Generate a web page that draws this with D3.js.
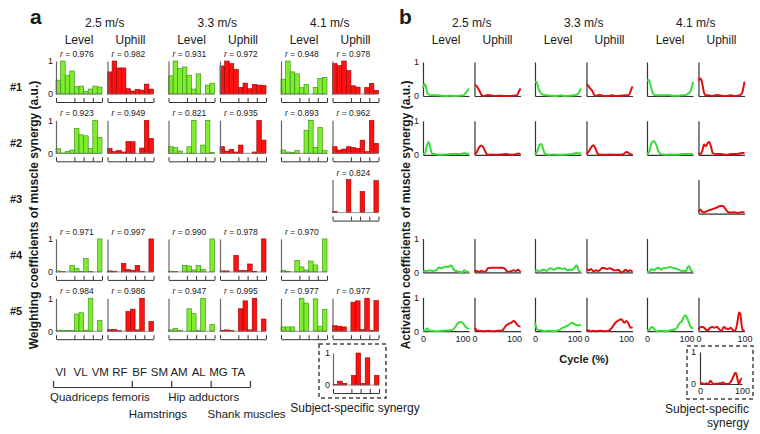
<!DOCTYPE html>
<html><head><meta charset="utf-8">
<script src="https://cdn.jsdelivr.net/npm/d3@7"></script>
<style>
body{margin:0;background:#fff;}
svg{display:block;font-family:"Liberation Sans",Arial,sans-serif;}
</style></head><body>
<svg id="c" width="760" height="434"></svg>
<script>
// ---------- data ----------
const speeds = ["2.5 m/s", "3.3 m/s", "4.1 m/s"];
const conditions = ["Level", "Uphill"];
const synergies = ["#1", "#2", "#3", "#4", "#5"];
const muscles = ["VI", "VL", "VM", "RF", "BF", "SM", "AM", "AL", "MG", "TA"];
const muscleGroups = ["Quadriceps femoris", "Hamstrings", "Hip adductors", "Shank muscles"];
const groupBounds = [0, 4, 6, 8, 10];
const yTicks = [0, 1];
const cycleTicks = [0, 100];

// r values per panel: [L2.5, U2.5, L3.3, U3.3, L4.1, U4.1]
const rS1 = ["0.976", "0.982", "0.931", "0.972", "0.948", "0.978"];
const rS2 = ["0.923", "0.949", "0.821", "0.935", "0.893", "0.962"];
const rS3 = [null, null, null, null, null, "0.824"];
const rS4 = ["0.971", "0.997", "0.990", "0.978", "0.970", null];
const rS5 = ["0.984", "0.986", "0.947", "0.995", "0.977", "0.977"];

// weighting coefficients (10 muscles) per panel
const wS1 = [
  [0.42, 1.0, 0.57, 0.70, 0.22, 0.24, 0.08, 0.15, 0.24, 0.21],
  [0.67, 1.0, 0.79, 0.79, 0.16, 0.09, 0.14, 0.12, 0.30, 0.15],
  [0.55, 1.0, 0.77, 0.82, 0.57, 0.15, 0.61, 0.0, 0.27, 0.33],
  [0.85, 1.0, 0.92, 0.75, 0.20, 0.33, 0.16, 0.29, 0.27, 0.26],
  [0.45, 1.0, 0.67, 0.61, 0.19, 0.29, 0.0, 0.20, 0.47, 0.50],
  [0.92, 0.86, 1.0, 0.71, 0.25, 0.21, 0.0, 0.20, 0.32, 0.11]
];
const wS2 = [
  [0.14, 0.01, 0.06, 0.10, 0.75, 0.56, 0.53, 0.14, 1.0, 0.48],
  [0.15, 0.05, 0.09, 0.04, 0.36, 0.35, 0.0, 0.16, 1.0, 0.45],
  [0.20, 0.17, 0.07, 0.0, 0.20, 1.0, 0.0, 0.25, 1.0, 0.03],
  [0.20, 0.07, 0.12, 0.04, 0.25, 0.0, 0.0, 0.04, 1.0, 0.40],
  [0.10, 0.04, 0.03, 0.08, 0.0, 0.70, 1.0, 0.18, 0.78, 0.08],
  [0.20, 0.10, 0.13, 0.20, 0.18, 0.15, 0.40, 0.05, 1.0, 0.30]
];
const wS3 = [null, null, null, null, null,
  [0.04, 0.0, 0.0, 1.0, 0.0, 0.0, 0.64, 0.0, 0.0, 0.97]];
const wS4 = [
  [0.03, 0.01, 0.0, 0.20, 0.10, 0.02, 0.40, 0.01, 0.0, 1.0],
  [0.03, 0.02, 0.0, 0.26, 0.07, 0.05, 0.20, 0.02, 0.0, 1.0],
  [0.02, 0.01, 0.0, 0.20, 0.18, 0.06, 0.19, 0.08, 0.0, 1.0],
  [0.03, 0.03, 0.0, 0.50, 0.04, 0.04, 0.24, 0.01, 0.0, 1.0],
  [0.05, 0.02, 0.0, 0.35, 0.15, 0.06, 0.33, 0.21, 0.0, 1.0],
  null
];
const wS5 = [
  [0.03, 0.03, 0.02, 0.02, 0.52, 0.56, 0.03, 1.0, 0.0, 0.32],
  [0.05, 0.05, 0.02, 0.0, 0.60, 0.67, 0.04, 1.0, 0.0, 0.30],
  [0.04, 0.08, 0.03, 0.0, 0.68, 0.53, 0.03, 1.0, 0.0, 0.20],
  [0.03, 0.04, 0.02, 0.0, 0.68, 0.92, 0.04, 1.0, 0.0, 0.37],
  [0.13, 0.13, 0.13, 0.0, 1.0, 0.85, 0.0, 0.98, 0.15, 0.66],
  [0.17, 0.15, 0.13, 0.0, 0.88, 0.92, 0.05, 1.0, 0.02, 0.93]
];
const wSubject = [0.02, 0.12, 0.05, 0.0, 0.30, 1.0, 0.05, 0.85, 0.0, 0.30];

// activation coefficients: [cycle %, value]
const aS1 = [
  [[0,.25],[3,.35],[6,.30],[9,.10],[12,.05],[20,.02],[30,.02],[40,.01],[50,0],[60,.01],[70,0],[80,.01],[88,.02],[92,.08],[96,.15],[100,.22]],
  [[0,.32],[4,.30],[8,.22],[12,.12],[16,.02],[22,0],[28,.03],[35,.02],[45,0],[55,.01],[65,0],[75,0],[85,.01],[92,.02],[96,.12],[100,.22]],
  [[0,.42],[4,.40],[8,.20],[12,.10],[16,.04],[25,.02],[35,.01],[45,0],[55,.02],[65,0],[75,.01],[85,.02],[92,.05],[96,.12],[100,.22]],
  [[0,.35],[4,.30],[8,.22],[12,.16],[16,.05],[20,0],[28,.04],[35,.01],[45,0],[55,.02],[65,0],[75,.01],[85,.02],[92,.02],[96,.15],[100,.28]],
  [[0,.45],[4,.47],[8,.30],[12,.10],[16,.03],[25,.02],[35,.02],[45,.03],[55,.01],[65,.01],[75,.02],[85,.03],[90,.07],[95,.15],[100,.42]],
  [[0,.45],[3,.52],[6,.48],[9,.30],[12,.10],[16,.02],[22,.02],[30,0],[40,.03],[50,.01],[60,0],[70,.02],[80,0],[90,.02],[95,.10],[100,.42]]
];
const aS2 = [
  [[0,.02],[5,.05],[8,.25],[12,.38],[16,.20],[20,.03],[30,.01],[40,0],[50,.01],[60,.02],[70,.03],[80,.02],[85,.03],[90,.05],[95,.02],[100,.03]],
  [[0,.02],[5,.08],[10,.22],[15,.27],[20,.20],[25,.05],[30,0],[40,.01],[50,0],[60,.01],[70,.02],[80,0],[90,.02],[95,.04],[100,.02]],
  [[0,.02],[5,.10],[10,.30],[13,.32],[17,.20],[21,.04],[30,0],[40,.01],[50,0],[60,0],[70,.01],[80,.02],[85,.04],[90,.05],[95,.04],[100,.05]],
  [[0,.02],[5,.10],[10,.22],[15,.28],[19,.20],[24,.04],[30,0],[40,0],[50,.01],[60,0],[70,0],[80,.02],[87,.08],[92,.05],[96,.01],[100,.02]],
  [[0,.02],[5,.10],[10,.35],[15,.40],[20,.30],[25,.10],[30,.02],[40,0],[50,.01],[60,0],[70,.01],[80,.02],[90,.02],[95,.03],[100,.02]],
  [[0,.05],[4,.02],[8,.10],[12,.30],[16,.25],[20,.35],[23,.38],[27,.25],[31,.05],[40,.02],[50,.02],[60,0],[70,.02],[80,.02],[90,.04],[95,.05],[100,.05]]
];
const aS3 = [null, null, null, null, null,
  [[0,.05],[4,.12],[8,.05],[12,.04],[20,.08],[30,.13],[40,.18],[47,.22],[53,.22],[58,.15],[63,.06],[70,.03],[78,.04],[85,.02],[92,.04],[100,.04]]];
const aS4 = [
  [[0,.02],[5,.05],[10,.04],[15,.06],[20,.04],[25,.05],[30,.08],[35,.15],[40,.12],[45,.15],[50,.17],[55,.16],[60,.20],[63,.18],[67,.08],[72,.04],[80,.02],[85,0],[90,.06],[95,.02],[100,.02]],
  [[0,.05],[5,.04],[10,.02],[15,.05],[20,.02],[25,.04],[30,.13],[40,.14],[50,.14],[60,.14],[65,.12],[70,.04],[75,.02],[80,.04],[85,.06],[90,.04],[95,.08],[100,.01]],
  [[0,.03],[5,.06],[10,.02],[15,.07],[20,.08],[25,.04],[30,.10],[35,.12],[40,.08],[45,.10],[50,.14],[55,.12],[60,.10],[65,.12],[70,.06],[75,.08],[80,.07],[85,.12],[90,.20],[93,.15],[96,.02],[100,.03]],
  [[0,.10],[5,.06],[10,.10],[15,.03],[20,.06],[25,.04],[30,.08],[35,.14],[40,.12],[45,.10],[50,.12],[55,.10],[60,.06],[65,.06],[70,.08],[75,0],[80,.02],[85,.08],[90,.03],[95,.06],[100,.02]],
  [[0,.01],[5,.02],[10,.10],[15,.06],[20,.12],[25,.14],[30,.08],[35,.12],[40,.12],[45,.14],[50,.16],[55,.14],[60,.12],[65,.10],[70,.08],[75,.04],[80,.05],[85,.03],[88,.15],[92,.18],[96,.03],[100,.04]],
  null
];
const aS5 = [
  [[0,.02],[5,.02],[8,.08],[10,.08],[13,.02],[20,.01],[30,0],[40,.01],[50,.02],[60,.03],[65,.05],[70,.12],[75,.22],[80,.27],[85,.26],[90,.18],[95,.10],[100,.06]],
  [[0,.10],[3,.06],[6,.02],[10,.01],[20,0],[30,.01],[40,0],[50,.01],[60,.02],[65,.10],[70,.18],[75,.22],[80,.25],[85,.30],[88,.28],[92,.20],[96,.15],[100,.14]],
  [[0,.25],[2,.15],[5,.05],[10,.03],[15,.02],[20,0],[30,.01],[40,0],[50,.02],[55,.05],[60,.10],[65,.13],[70,.16],[75,.20],[80,.25],[85,.22],[90,.18],[95,.17],[100,.18]],
  [[0,.03],[5,.02],[10,0],[15,.01],[20,0],[30,.01],[40,0],[50,.02],[55,.10],[60,.20],[65,.28],[70,.32],[75,.35],[78,.32],[82,.25],[87,.30],[92,.20],[96,.10],[100,.12]],
  [[0,.02],[5,.04],[8,.10],[12,.12],[16,.06],[20,0],[30,.01],[40,0],[50,.02],[60,.05],[65,.10],[70,.22],[75,.28],[80,.42],[83,.47],[86,.42],[90,.30],[95,.12],[100,.08]],
  [[0,.05],[5,.12],[10,.12],[15,.06],[20,.02],[25,.10],[30,.12],[35,.10],[40,.13],[45,.06],[50,.02],[55,.12],[60,.08],[65,.06],[70,.10],[75,.03],[80,.02],[85,.30],[88,.55],[91,.50],[94,.15],[97,.02],[100,.02]]
];
const aSubject = [[0,.02],[5,.02],[10,0],[15,.02],[20,0],[25,.10],[28,.05],[32,0],[40,.01],[50,.02],[55,.05],[60,0],[70,.02],[75,.10],[80,.25],[84,.35],[87,.30],[90,.10],[93,0],[96,.12],[100,.18]];

const rAll = [rS1, rS2, rS3, rS4, rS5];
const wAll = [wS1, wS2, wS3, wS4, wS5];
const aAll = [aS1, aS2, aS3, aS4, aS5];

// ---------- style ----------
const GREEN_FILL = "#7fec2c", GREEN_STROKE = "#2f8a12";
const RED_FILL = "#ff1111", RED_STROKE = "#9a0000";
const GREEN_LINE = "#35dd35", RED_LINE = "#e01010";
const TXT = "#1a1a1a";
const FONT = "Liberation Sans, Arial, sans-serif";

const svg = d3.select("#c");

// panel geometry
const PW = 46, PH = 33;
const colA = (k) => 56 + Math.floor(k / 2) * 112.5 + (k % 2) * 51.5;
const colB = (k) => 423 + Math.floor(k / 2) * 112 + (k % 2) * 51.5;
const rowA = (r) => 94 + r * 59.3;
const rowB = (r) => 96 + r * 58.8;

const xBand = d3.scaleBand().domain(muscles).range([0, PW]).padding(0);
const xTickLin = d3.scaleLinear().domain([0, 10]).range([0, PW]);

// ---------- panel letters & headers ----------
svg.append("text").attr("x", 30).attr("y", 24).attr("font-size", 21).attr("font-weight", "bold").attr("fill", TXT).text("a");
svg.append("text").attr("x", 399).attr("y", 24).attr("font-size", 21).attr("font-weight", "bold").attr("fill", TXT).text("b");

function headers(colFn) {
  speeds.forEach((s, i) => {
    const cx = (colFn(i * 2) + colFn(i * 2 + 1) + PW) / 2;
    svg.append("text").attr("x", cx).attr("y", 27).attr("text-anchor", "middle").attr("font-size", 12).attr("fill", TXT).text(s);
    conditions.forEach((c, j) => {
      svg.append("text").attr("x", colFn(i * 2 + j) + PW / 2).attr("y", 44).attr("text-anchor", "middle").attr("font-size", 12).attr("fill", TXT).text(c);
    });
  });
}
headers(colA);
headers(colB);

// row labels
synergies.forEach((s, r) => {
  svg.append("text").attr("x", 10).attr("y", 91 + r * 56).attr("font-size", 11).attr("font-weight", "bold").attr("fill", TXT).text(s);
});

// y-axis titles
svg.append("text").attr("transform", "translate(38,215) rotate(-90)").attr("text-anchor", "middle")
  .attr("font-size", 12).attr("font-weight", "bold").attr("fill", TXT).text("Weighting coefficients of muscle synergy (a.u.)");
svg.append("text").attr("transform", "translate(410,215) rotate(-90)").attr("text-anchor", "middle")
  .attr("font-size", 12).attr("font-weight", "bold").attr("fill", TXT).text("Activation coefficients of muscle synergy (a.u.)");

// ---------- bar panel ----------
function barPanel(x0, y0, vals, uphill, showY, rText, h) {
  const g = svg.append("g").attr("transform", `translate(${x0},${y0})`);
  const ys = d3.scaleLinear().domain([0, 1]).range([0, -(h || PH)]);
  g.selectAll("rect").data(vals).enter().append("rect")
    .attr("x", (d, i) => xBand(muscles[i]))
    .attr("width", xBand.bandwidth())
    .attr("y", d => ys(d))
    .attr("height", d => -ys(d))
    .attr("fill", uphill ? RED_FILL : GREEN_FILL)
    .attr("stroke", uphill ? RED_STROKE : GREEN_STROKE)
    .attr("stroke-width", 0.6);
  g.append("line").attr("x1", 0).attr("x2", PW).attr("y1", 0).attr("y2", 0).attr("stroke", "#777").attr("stroke-width", 0.8);
  const ya = d3.axisLeft(ys).tickValues(yTicks).tickSize(0).tickPadding(3)
    .tickFormat(showY ? d3.format("d") : () => "");
  const yg = g.append("g").call(ya);
  yg.select(".domain").attr("stroke", "#666").attr("stroke-width", 1.2);
  yg.selectAll("text").attr("font-size", 9).attr("fill", TXT).attr("font-family", FONT);
  const xa = d3.axisBottom(xTickLin).tickValues(groupBounds).tickSizeInner(-4).tickSizeOuter(0).tickFormat(() => "");
  const xg = g.append("g").attr("transform", "translate(0,8)").call(xa);
  xg.selectAll("path,line").attr("stroke", "#333").attr("stroke-width", 1);
  if (rText) {
    const t = g.append("text").attr("x", 4).attr("y", ys(1) - 4).attr("font-size", 8.5).attr("fill", TXT);
    t.append("tspan").attr("font-style", "italic").text("r");
    t.append("tspan").text(" = " + rText);
  }
}

// ---------- line panel ----------
function linePanel(x0, y0, pts, uphill, showY, showX, w, h, endAnchor) {
  const g = svg.append("g").attr("transform", `translate(${x0},${y0})`);
  const xs = d3.scaleLinear().domain([0, 100]).range([0, w || PW]);
  const ys = d3.scaleLinear().domain([0, 1]).range([0, -(h || 34)]);
  const xa = d3.axisBottom(xs).tickValues(cycleTicks).tickSize(0).tickPadding(4)
    .tickFormat(showX ? d3.format("d") : () => "");
  const xg = g.append("g").call(xa);
  xg.select(".domain").attr("stroke", "#333").attr("stroke-width", 1.2);
  xg.selectAll("text").attr("font-size", 9).attr("fill", TXT).attr("font-family", FONT);
  if (endAnchor) xg.selectAll(".tick text").filter(d => d === 100).attr("text-anchor", "end").attr("dx", 1);
  const ya = d3.axisLeft(ys).tickValues(yTicks).tickSize(0).tickPadding(4)
    .tickFormat(showY ? d3.format("d") : () => "");
  const yg = g.append("g").call(ya);
  yg.select(".domain").attr("stroke", "#333").attr("stroke-width", 1.2);
  yg.selectAll("text").attr("font-size", 9).attr("fill", TXT).attr("font-family", FONT);
  const line = d3.line().x(d => xs(d[0])).y(d => ys(d[1])).curve(d3.curveMonotoneX);
  g.append("path").datum(pts).attr("d", line).attr("fill", "none")
    .attr("stroke", uphill ? RED_LINE : GREEN_LINE).attr("stroke-width", 2).attr("stroke-linejoin", "round");
}

// draw panels
for (let r = 0; r < synergies.length; r++) {
  for (let k = 0; k < 6; k++) {
    const w = wAll[r][k];
    if (w) barPanel(colA(k), rowA(r), w, k % 2 === 1, k === 0, rAll[r][k]);
    const a = aAll[r][k];
    if (a) linePanel(colB(k), rowB(r), a, k % 2 === 1, k === 0, r === synergies.length - 1, null, null, k < 5);
  }
}

// subject-specific panels
svg.append("rect").attr("x", 319).attr("y", 344).attr("width", 67).attr("height", 54)
  .attr("fill", "none").attr("stroke", "#444").attr("stroke-width", 1.5).attr("stroke-dasharray", "4,3");
barPanel(333, 385, wSubject, true, true, null, 32);
svg.append("text").attr("x", 355).attr("y", 412).attr("text-anchor", "middle").attr("font-size", 12).attr("fill", TXT).text("Subject-specific synergy");

svg.append("rect").attr("x", 687).attr("y", 346).attr("width", 66).attr("height", 53)
  .attr("fill", "none").attr("stroke", "#444").attr("stroke-width", 1.5).attr("stroke-dasharray", "4,3");
linePanel(700, 384, aSubject, true, true, true, 42, 32, false);
svg.append("text").attr("x", 749).attr("y", 413).attr("text-anchor", "end").attr("font-size", 12).attr("fill", TXT).text("Subject-specific");
svg.append("text").attr("x", 749).attr("y", 427).attr("text-anchor", "end").attr("font-size", 12).attr("fill", TXT).text("synergy");

svg.append("text").attr("x", 584).attr("y", 363).attr("text-anchor", "middle").attr("font-size", 11).attr("font-weight", "bold").attr("fill", TXT).text("Cycle (%)");

// ---------- muscle legend ----------
const xMus = d3.scaleLinear().domain([0, 10]).range([53, 250]);
svg.selectAll(".mlab").data(muscles).enter().append("text").attr("class", "mlab")
  .attr("x", (d, i) => xMus(i + 0.5) - 2).attr("y", 376).attr("text-anchor", "middle")
  .attr("font-size", 11.5).attr("fill", TXT).text(d => d);
const brAxis = d3.axisBottom(xMus).tickValues(groupBounds).tickSizeInner(-6).tickSizeOuter(0).tickFormat(() => "");
const bg = svg.append("g").attr("transform", "translate(0,387)").call(brAxis);
bg.selectAll("path,line").attr("stroke", "#333").attr("stroke-width", 1.2);
muscleGroups.forEach((m, i) => {
  svg.append("text").attr("x", xMus(groupBounds[i]) - 3).attr("y", i % 2 === 0 ? 401 : 418)
    .attr("font-size", 11.5).attr("fill", TXT).text(m);
});
</script>
</body></html>
